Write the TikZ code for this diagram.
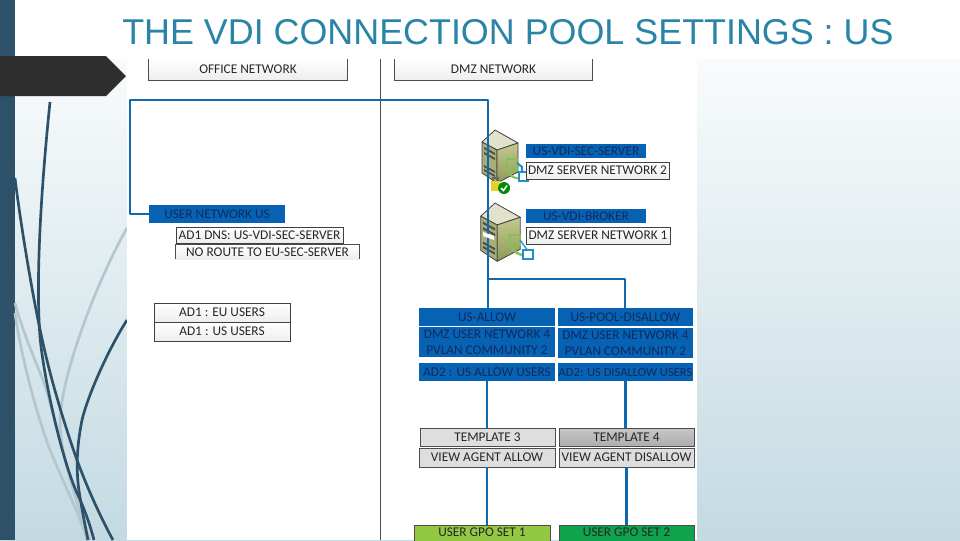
\documentclass[tikz,border=0pt]{standalone}
\usepackage{fontspec}
\setmainfont{Carlito}
\newfontfamily\titlefont{Liberation Sans}
\definecolor{band}{HTML}{2C5168}
\definecolor{bluefill}{HTML}{0862B4}
\definecolor{bluetxt}{HTML}{0C2C5E}
\definecolor{wire}{HTML}{0F69AE}
\definecolor{titlecol}{HTML}{2A84A8}
\definecolor{bgend}{HTML}{C3DAE2}
\definecolor{lightcurve}{HTML}{B3C7CE}
\definecolor{srvfronta}{HTML}{C4C891}
\definecolor{srvfrontb}{HTML}{8E9A55}
\definecolor{srvtop}{HTML}{E2E1CB}
\definecolor{srvleft}{HTML}{A9AE78}
\definecolor{gpoa}{HTML}{92C842}
\definecolor{gpob}{HTML}{0EA34C}
\definecolor{badgegreen}{HTML}{86BE58}
\definecolor{badgeblue}{HTML}{1E92CF}
\tikzset{
  x=0.75pt,y=-0.75pt,
  lbl/.style={font=\fontsize{10pt}{12pt}\selectfont,inner sep=0pt,align=center,text=black!85},
  whitebox/.style={lbl,draw=black!75,line width=0.6pt,top color=white,bottom color=black!7},
  openbox/.style={lbl,top color=white,bottom color=black!7},
  bluebox/.style={lbl,fill=bluefill,text=bluetxt},
  greybox/.style={lbl,draw=black!70,line width=0.6pt,fill=black!13},
  darkgrey/.style={lbl,draw=black!70,line width=0.6pt,top color=black!22,bottom color=black!32},
  gpobox/.style={lbl,draw=black!70,line width=0.6pt,fill=#1,anchor=north,text height=8pt,text depth=14pt},
  wireline/.style={wire,line width=2.1pt,line join=round},
  dcurve/.style={band,line width=2pt},
  lcurve/.style={lightcurve,line width=2pt},
  sface/.style={draw=black!75,line width=0.6pt,fill=#1,line join=round},
}
\newcommand{\srv}[3]{%
 \begin{scope}[shift={(#1,#2)},scale=#3]
  \draw[sface=srvtop] (-13,12) -- (0,0) -- (23,13) -- (2,20) -- cycle;
  \draw[sface=srvleft] (-13,12) -- (2,20) -- (2,53) -- (-13,43) -- cycle;
  \fill[black!70] (-11,17) -- (0,23) -- (0,25) -- (-11,19) -- cycle;
  \fill[black!70] (-11,22) -- (0,28) -- (0,30) -- (-11,24) -- cycle;
  \fill[black!70] (-11,35) -- (0,41) -- (0,43) -- (-11,37) -- cycle;
  \fill[black!70] (-11,39) -- (0,45) -- (0,47) -- (-11,41) -- cycle;
  \draw[draw=black!75,line width=0.6pt,top color=srvfronta,bottom color=srvfrontb,line join=round] (2,20) -- (23,13) -- (23,42) -- (2,53) -- cycle;
 \end{scope}}
\begin{document}
\begin{tikzpicture}
\useasboundingbox (0,0) rectangle (960,540);
% slide background
\shade[top color=white,bottom color=bgend] (0,0) rectangle (960,540);
\fill[white] (0,0) rectangle (960,59);
\fill[band] (0,0) rectangle (15,540);
% swooshes
\draw[lcurve] (127,228) .. controls (100,275) and (62,370) .. (60,420) .. controls (60,450) and (72,490) .. (90,540);
\draw[lcurve] (15,303) .. controls (22,330) and (35,360) .. (43,380) .. controls (50,400) and (62,450) .. (88,540);
\draw[lcurve] (15,313) .. controls (20,350) and (35,410) .. (50,450) .. controls (62,480) and (78,510) .. (87,540);
\draw[dcurve] (50,102) .. controls (43,170) and (35,270) .. (40,337) .. controls (44,380) and (62,460) .. (77,493) .. controls (85,510) and (90,525) .. (94,540);
\draw[dcurve] (15,178) .. controls (20,220) and (33,300) .. (43,343) .. controls (52,385) and (68,435) .. (77,460) .. controls (88,490) and (102,520) .. (113,540);
\draw[dcurve] (127,320) .. controls (108,350) and (88,395) .. (82,420) .. controls (76,450) and (76,475) .. (80,497) .. controls (83,515) and (86,530) .. (88,540);
% diagram sheet
\fill[white] (127,59) rectangle (697,540);
\node[font=\titlefont\fontsize{26.9pt}{28pt}\selectfont,text=titlecol,anchor=west,inner sep=0pt] (title) at (122,32) {THE VDI CONNECTION POOL SETTINGS : US};
\fill[black!82] (0,56) -- (106,56) -- (126,76) -- (106,96) -- (0,96) -- cycle;
\coordinate (sheettop) at (380.5,59);
\coordinate (sheetbot) at (380.5,540);
\draw[black!70,line width=0.6pt] (sheettop) -- (sheetbot);
% servers
\srv{495}{130}{1}
\srv{495}{203}{1.1}
% server badges
\draw[badgegreen,line width=1.4pt] (507,159) rectangle (517,170);
\draw[badgegreen,line width=1.6pt] (508,172) .. controls (511,177) and (516,179) .. (520,178);
\draw[badgeblue,line width=1.6pt] (517,163) -- (522,167) -- (522,173);
\draw[badgeblue,line width=1.6pt,fill=white] (519,172) rectangle (528,181);
\fill[yellow!65!brown] (491,181) rectangle (500,191);
\draw[black!60,line width=1pt] (493,181) -- (493,178) -- (498,178) -- (498,181);
\fill[green!55!black] (504,188) circle (6);
\draw[white,line width=1.1pt] (501,188) -- (503.5,190.5) -- (507,185.5);
\draw[badgegreen,line width=1.4pt] (510,235) rectangle (520,245);
\draw[badgegreen,line width=1.8pt] (511,247) .. controls (514,252) and (519,255) .. (524,255);
\draw[badgeblue,line width=1pt] (520,240) -- (528,251);
\draw[badgeblue,line width=2pt,fill=white] (523,250) rectangle (533,259);
% boxes
\node[openbox,minimum width=148.5pt,minimum height=15.75pt] (office) at (248,69.5) {OFFICE NETWORK};
\draw[black!70,line width=0.6pt] (office.north west) -- (office.south west) -- (office.south east) -- (office.north east);
\node[openbox,minimum width=147.75pt,minimum height=15.75pt] (dmz) at (493.5,69.5) {DMZ NETWORK};
\draw[black!70,line width=0.6pt] (dmz.north west) -- (dmz.south west) -- (dmz.south east) -- (dmz.north east);
\node[bluebox,minimum width=102pt,minimum height=13.5pt] (usernet) at (217,214) {USER NETWORK US};
\node[whitebox,minimum width=125.25pt,minimum height=12pt] (dns) at (259.5,235) {AD1 DNS: US-VDI-SEC-SERVER};
\node[openbox,minimum width=137.25pt,minimum height=10.5pt] (noroute) at (267.5,252) {NO ROUTE TO EU-SEC-SERVER};
\draw[black!70,line width=0.6pt] (noroute.south west) -- (noroute.north west) -- (noroute.north east) -- (noroute.south east);
\node[whitebox,minimum width=102pt,minimum height=14.25pt] (adeu) at (222,312.5) {AD1 : EU USERS};
\node[whitebox,minimum width=102pt,minimum height=14.25pt] (adus) at (222,331.5) {AD1 : US USERS};
\node[bluebox,minimum width=90pt,minimum height=10.5pt] (secsrv) at (586,151) {US-VDI-SEC-SERVER};
\node[whitebox,minimum width=107.25pt,minimum height=12.75pt] (dmz2) at (597.5,170.5) {DMZ SERVER NETWORK 2};
\node[bluebox,minimum width=90pt,minimum height=10.5pt] (broker) at (586,216) {US-VDI-BROKER};
\node[whitebox,minimum width=108pt,minimum height=12.75pt] (dmz1) at (598,235.5) {DMZ SERVER NETWORK 1};
\node[bluebox,minimum width=102pt,minimum height=13.5pt] (allow) at (487,317) {US-ALLOW};
\node[bluebox,minimum width=102pt,minimum height=22.5pt] (dmz4a) at (487,342) {DMZ USER NETWORK 4\\PVLAN COMMUNITY 2};
\node[bluebox,minimum width=102pt,minimum height=13.5pt] (adallow) at (487,372) {AD2 : US ALLOW USERS};
\node[bluebox,minimum width=101.25pt,minimum height=13.5pt] (disallow) at (625.5,317) {US-POOL-DISALLOW};
\node[bluebox,minimum width=101.25pt,minimum height=22.5pt] (dmz4b) at (625.5,343) {DMZ USER NETWORK 4\\PVLAN COMMUNITY 2};
\node[bluebox,minimum width=101.25pt,minimum height=13.5pt,font=\fontsize{9.4pt}{12pt}\selectfont] (addis) at (625.5,372) {AD2: US DISALLOW USERS};
\node[greybox,minimum width=101.25pt,minimum height=13.5pt] (tpl3) at (487.5,437) {TEMPLATE 3};
\node[greybox,minimum width=102pt,minimum height=14.25pt] (vaa) at (487,457.5) {VIEW AGENT ALLOW};
\node[darkgrey,minimum width=101.25pt,minimum height=13.5pt] (tpl4) at (626.5,437) {TEMPLATE 4};
\node[greybox,minimum width=101.25pt,minimum height=14.25pt] (vad) at (626.5,457.5) {VIEW AGENT DISALLOW};
\node[gpobox=gpoa,minimum width=102pt] (gpo1) at (482,525) {USER GPO SET 1};
\node[gpobox=gpob,minimum width=101.25pt] (gpo2) at (626.5,525) {USER GPO SET 2};
% connectors
\coordinate (tl) at (130,100);
\coordinate (tr) at (488,100);
\coordinate (junc) at (488,279);
\coordinate (juncr) at (625,279);
\draw[wireline] (usernet.west) -| (tl) -- (tr) -- (junc);
\draw[wireline] (junc) -- (junc |- allow.north);
\draw[wireline] (junc) -- (juncr) -- (juncr |- disallow.north);
\draw[wireline] (adallow.south) -- (adallow.south |- tpl3.north);
\draw[wireline] (addis.south) -- (addis.south |- tpl4.north);
\draw[wireline] (vaa.south) -- (vaa.south |- gpo1.north);
\draw[wireline] (vad.south) -- (vad.south |- gpo2.north);
% broker drive bay in front of the connector
\fill[white] (483,232) -- (494,236) -- (494,240) -- (483,236) -- cycle;
\end{tikzpicture}
\end{document}
